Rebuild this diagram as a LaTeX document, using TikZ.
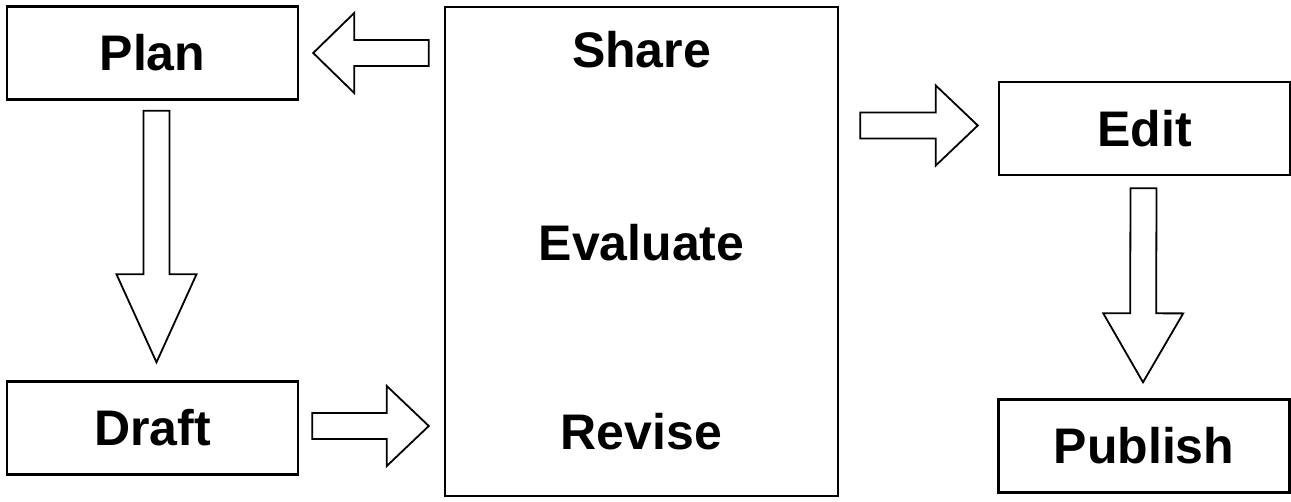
\documentclass[tikz,border=0pt]{standalone}
\usepackage{fontspec}
\setmainfont{Liberation Sans}
\usetikzlibrary{calc}

% block (outline) arrow between two points: shaft half width, head half width, head length
\def\bas{6.5pt}
\def\baH{20pt}
\def\bahl{21pt}

\tikzset{
  stagebox/.style={draw, line width=1.2pt, minimum width=145.5pt, minimum height=46.5pt,
    inner sep=0pt, font=\bfseries\fontsize{25}{30}\selectfont},
  hubbox/.style={draw, line width=1.2pt, minimum width=196.5pt, minimum height=244.5pt, inner sep=0pt},
  hublabel/.style={inner sep=0pt, font=\bfseries\fontsize{25}{30}\selectfont},
  headlen/.code={\def\bahl{#1}},
  blockarrow/.style={draw, line width=0.9pt, line join=miter,
    to path={let \p1=(\tikztostart), \p2=(\tikztotarget),
      \n1={veclen(\x2-\x1,\y2-\y1)}, \n2={atan2(\y2-\y1,\x2-\x1)}, \n3={\n1-\bahl} in
      ($(\p1)+(\n2+90:\bas)$) -- ($(\p1)+(\n2:\n3)+(\n2+90:\bas)$)
      -- ($(\p1)+(\n2:\n3)+(\n2+90:\baH)$) -- (\p2)
      -- ($(\p1)+(\n2:\n3)+(\n2-90:\baH)$) -- ($(\p1)+(\n2:\n3)+(\n2-90:\bas)$)
      -- ($(\p1)+(\n2-90:\bas)$) -- cycle}}
}

\begin{document}
\begin{tikzpicture}[x=0.5pt, y=-0.5pt]
\useasboundingbox (0,0) rectangle (1291,502);

% stages
\node[stagebox] (plan)    at (152.5,53)   {Plan};
\node[stagebox] (draft)   at (152.5,428)  {Draft};
\node[hubbox]   (hub)     at (641.5,251.5) {};
\node[stagebox] (edit)    at (1144.5,128.5) {Edit};
\node[stagebox] (publish) at (1144,446)   {Publish};

% labels inside the central box
\node[hublabel] (share)    at (641.5,50)  {Share};
\node[hublabel] (evaluate) at (641.5,243) {Evaluate};
\node[hublabel] (revise)   at (641.5,432) {Revise};

% flow arrows
\draw[blockarrow, headlen=20.5pt] ($(hub.west|-plan.east)+(-15,0)$) to ($(plan.east)+(14,0)$);
\draw[blockarrow, headlen=44pt]   ($(plan.south)+(4,10)$) to ($(draft.north)+(4,-18)$);
\draw[blockarrow, headlen=21pt]   ($(draft.east)+(13,-2)$) to ($(hub.west|-draft.east)+(-15,-2)$);
\draw[blockarrow, headlen=21pt]   ($(hub.east|-edit.west)+(21,-3)$) to ($(edit.west)+(-20,-3)$);
\draw[blockarrow, headlen=34.5pt] ($(edit.south)+(-1,12)$) to ($(publish.north)+(-1,-16)$);
\end{tikzpicture}
\end{document}
